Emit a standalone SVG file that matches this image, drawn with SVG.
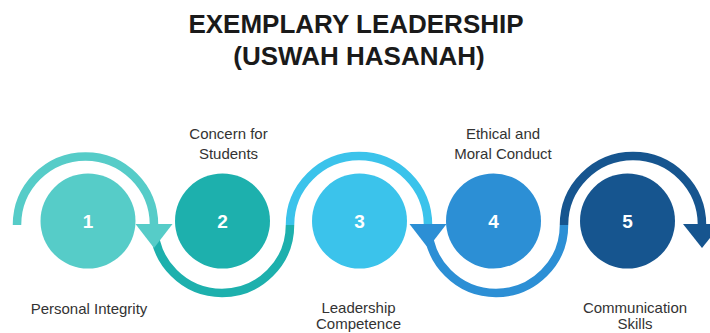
<svg xmlns="http://www.w3.org/2000/svg" width="710" height="333" viewBox="0 0 710 333">
  <style>
    .title { font-family: "Liberation Sans", Arial, sans-serif; font-weight: bold; font-size: 26px; fill: #1a1a1a; text-anchor: middle; }
    .label { font-family: "Liberation Sans", Arial, sans-serif; font-size: 15px; fill: #333333; text-anchor: middle; }
    .num { font-family: "Liberation Sans", Arial, sans-serif; font-weight: bold; font-size: 19px; fill: #ffffff; text-anchor: middle; }
    .arc { fill: none; stroke-width: 8.5; stroke-linecap: butt; }
    .c1 { fill: #56CCC8; } .s1 { stroke: #56CCC8; }
    .c2 { fill: #1DB0AD; } .s2 { stroke: #1DB0AD; }
    .c3 { fill: #3BC3EB; } .s3 { stroke: #3BC3EB; }
    .c4 { fill: #2C8FD5; } .s4 { stroke: #2C8FD5; }
    .c5 { fill: #16558F; } .s5 { stroke: #16558F; }
  </style>
  <rect width="710" height="333" fill="#ffffff"/>

  <g id="title">
    <text class="title" x="356" y="33">EXEMPLARY LEADERSHIP</text>
    <text class="title" x="359" y="65">(USWAH HASANAH)</text>
  </g>

  <!-- flowing band: alternating upper and lower half-rings -->
  <g id="connectors">
    <path class="arc s1" d="M 17 225 A 68.5 68.5 0 0 1 154 225"/>
    <path class="arc s2" d="M 154 225 A 68 68 0 0 0 290 225"/>
    <path class="arc s3" d="M 290 225 A 69 69 0 0 1 428 225"/>
    <path class="arc s4" d="M 428 225 A 68 68 0 0 0 564 225"/>
    <path class="arc s5" d="M 564 225 A 69 69 0 0 1 702 225"/>
    <polygon class="c1" points="135.5,224 172.5,224 154,248"/>
    <polygon class="c4" points="409.5,224 446.5,224 428,248"/>
    <polygon class="c5" points="683,224 721,224 702,248"/>
  </g>

  <g id="node1">
    <circle class="c1" cx="88" cy="221" r="47.5"/>
    <text class="num" x="88" y="228">1</text>
    <text class="label" x="89" y="314">Personal Integrity</text>
  </g>
  <g id="node2">
    <circle class="c2" cx="222.5" cy="221" r="47.5"/>
    <text class="num" x="222.5" y="228">2</text>
    <text class="label" x="228.5" y="139">Concern for</text>
    <text class="label" x="228.5" y="159">Students</text>
  </g>
  <g id="node3">
    <circle class="c3" cx="359.5" cy="221" r="47.5"/>
    <text class="num" x="359.5" y="228">3</text>
    <text class="label" x="358.5" y="313">Leadership</text>
    <text class="label" x="358.5" y="329">Competence</text>
  </g>
  <g id="node4">
    <circle class="c4" cx="493.5" cy="221" r="47.5"/>
    <text class="num" x="493.5" y="228">4</text>
    <text class="label" x="503" y="139">Ethical and</text>
    <text class="label" x="503" y="159">Moral Conduct</text>
  </g>
  <g id="node5">
    <circle class="c5" cx="627.5" cy="221" r="47.5"/>
    <text class="num" x="627.5" y="228">5</text>
    <text class="label" x="635" y="313">Communication</text>
    <text class="label" x="635" y="329">Skills</text>
  </g>
</svg>
